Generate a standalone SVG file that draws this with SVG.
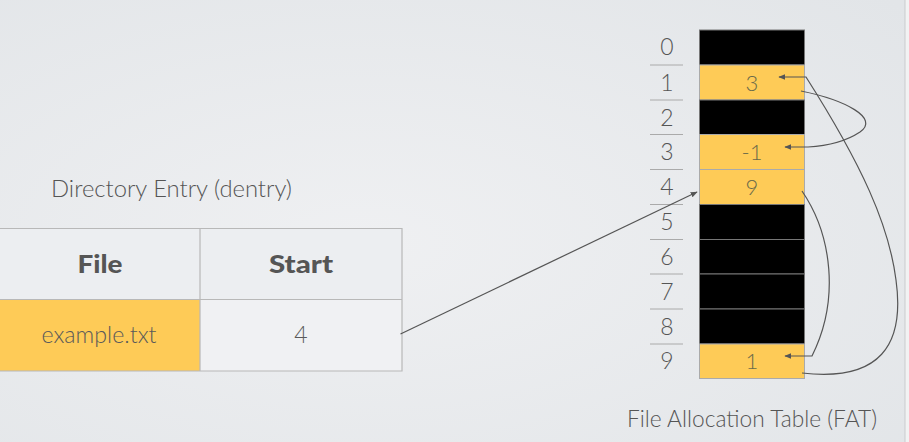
<svg xmlns="http://www.w3.org/2000/svg" width="909" height="442" viewBox="0 0 909 442">
<defs>
<radialGradient id="bg" cx="0.4" cy="0.55" r="0.8">
<stop offset="0" stop-color="#eff0f2"/>
<stop offset="1" stop-color="#e2e5e8"/>
</radialGradient>
<marker id="ah" viewBox="0 0 10 10" refX="9" refY="5" markerWidth="7" markerHeight="7" orient="auto" markerUnits="userSpaceOnUse">
<path d="M0,1 L10,5 L0,9 z" fill="#555"/>
</marker>
<style>
.t{font-family:Lato,"Open Sans",sans-serif;font-weight:300;fill:#555;}
.b{font-family:Lato,"Open Sans",sans-serif;font-weight:900;fill:#555;font-size:24px;}
.idx{font-size:23px;text-anchor:middle;}
.cell{font-size:22px;text-anchor:middle;fill:#6a6a4a;}
.blk{fill:#000;stroke:#777;stroke-width:1;}
.yel{fill:#fecb57;stroke:#aaa;stroke-width:1;}
.sep{stroke:#aaa;stroke-width:1;}
.tb{stroke:#b8b8b8;stroke-width:1.2;}
.con{fill:none;stroke:#555;stroke-width:1.2;}
</style>
</defs>
<rect width="909" height="442" fill="url(#bg)"/>
<rect x="905" y="0" width="4" height="442" fill="#f2f2f3"/>
<line x1="905" y1="0" x2="905" y2="442" stroke="#c9cbce" stroke-width="1"/>

<g id="dentry">
<text class="t" x="51" y="197" font-size="24" textLength="241" lengthAdjust="spacingAndGlyphs">Directory Entry (dentry)</text>
<rect x="-2" y="228.5" width="404" height="71" fill="#eceef1"/>
<rect x="-2" y="299.5" width="202" height="71.5" fill="#fecb57"/>
<rect x="200" y="299.5" width="202" height="71.5" fill="#f0f1f3"/>
<path class="tb" fill="none" d="M-2,228.5 H402 V371 H-2 M-2,299.5 H402 M200,228.5 V371"/>
<text class="b" x="100" y="273" text-anchor="middle" textLength="45" lengthAdjust="spacingAndGlyphs">File</text>
<text class="b" x="301" y="273" text-anchor="middle" textLength="64" lengthAdjust="spacingAndGlyphs">Start</text>
<text class="t cell" x="99" y="343" style="fill:#5a5a5a;font-size:23px" textLength="115" lengthAdjust="spacingAndGlyphs">example.txt</text>
<text class="t cell" x="301" y="343" style="fill:#5a5a5a;font-size:23px">4</text>
</g>

<g id="fat">
<rect class="blk" x="699.5" y="30" width="105" height="35"/>
<rect class="yel" x="699.5" y="65" width="105" height="35"/>
<rect class="blk" x="699.5" y="100" width="105" height="34.5"/>
<rect class="yel" x="699.5" y="134.5" width="105" height="35"/>
<rect class="yel" x="699.5" y="169.5" width="105" height="35"/>
<rect class="blk" x="699.5" y="204.5" width="105" height="35"/>
<rect class="blk" x="699.5" y="239.5" width="105" height="34.5"/>
<rect class="blk" x="699.5" y="274" width="105" height="35"/>
<rect class="blk" x="699.5" y="309" width="105" height="35"/>
<rect class="yel" x="699.5" y="344" width="105" height="34.5"/>
<text class="t cell" x="752" y="91">3</text>
<text class="t cell" x="752" y="160">-1</text>
<text class="t cell" x="752" y="195">9</text>
<text class="t cell" x="752" y="369">1</text>
</g>

<g id="fat-index">
<text class="t idx" x="667" y="55">0</text>
<text class="t idx" x="667" y="91">1</text>
<text class="t idx" x="667" y="126">2</text>
<text class="t idx" x="667" y="160">3</text>
<text class="t idx" x="667" y="195">4</text>
<text class="t idx" x="667" y="230">5</text>
<text class="t idx" x="667" y="265">6</text>
<text class="t idx" x="667" y="300">7</text>
<text class="t idx" x="667" y="335">8</text>
<text class="t idx" x="667" y="369">9</text>
<path class="sep" d="M650,65 H683 M650,100 H683 M650,134.5 H683 M650,169.5 H683 M650,204.5 H683 M650,239.5 H683 M650,274 H683 M650,309 H683 M650,344 H683"/>
<text class="t" x="627" y="427" font-size="23" textLength="250" lengthAdjust="spacingAndGlyphs">File Allocation Table (FAT)</text>
</g>

<g id="connectors">
<line class="con" x1="400.5" y1="334" x2="697" y2="192" marker-end="url(#ah)"/>
<path class="con" d="M801,91 C845,100 880,118 860,132 C845,142 825,146 808,147 L785,147" marker-end="url(#ah)"/>
<path class="con" d="M802,191 C832,235 840,300 812,356 L785,356" marker-end="url(#ah)"/>
<path class="con" d="M802,373 C880,382 905,345 896,280 C889,225 862,165 806,77 L779,77" marker-end="url(#ah)"/>
</g>
</svg>
